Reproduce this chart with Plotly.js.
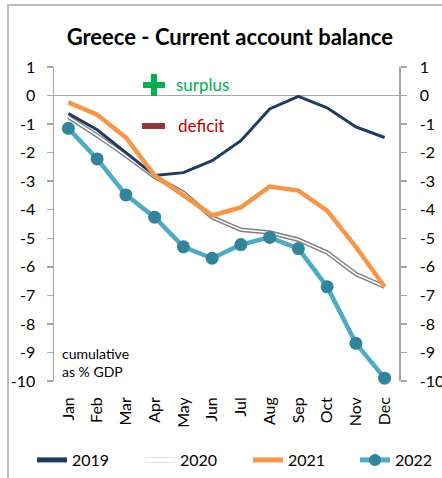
<!DOCTYPE html>
<html>
<head>
<meta charset="utf-8">
<script src="https://cdn.plot.ly/plotly-3.0.1.min.js"></script>
<style>html,body{margin:0;padding:0;background:#fff;}#chart{width:442px;height:478px;}</style>
</head>
<body>
<div id="chart"></div>
<script>
const months = ["Jan","Feb","Mar","Apr","May","Jun","Jul","Aug","Sep","Oct","Nov","Dec"];
const y2019 = [-0.63,-1.2,-2.0,-2.8,-2.7,-2.28,-1.58,-0.47,-0.03,-0.43,-1.1,-1.47];
const y2020 = [-0.75,-1.4,-2.1,-2.85,-3.4,-4.27,-4.7,-4.8,-5.05,-5.5,-6.25,-6.7];
const y2021 = [-0.24,-0.67,-1.47,-2.8,-3.5,-4.2,-3.92,-3.19,-3.33,-4.03,-5.3,-6.7];
const y2022 = [-1.15,-2.22,-3.48,-4.26,-5.3,-5.7,-5.22,-4.97,-5.36,-6.7,-8.68,-9.9];
const yTicks = [1,0,-1,-2,-3,-4,-5,-6,-7,-8,-9,-10];

const FONT = "Lato, 'Open Sans', sans-serif";
const px2x = p => (p - 54) / 345;
const px2y = p => (381 - p) / 314;

const traces = [
  {x: months, y: y2020, name: "2020", type: "scatter", mode: "lines", legend: "legend2",
   line: {color: "#7f7f7f", width: 4.5}},
  {x: months, y: y2020, name: "2020", type: "scatter", mode: "lines", legend: "legend5",
   line: {color: "#ffffff", width: 1.6}, hoverinfo: "skip"},
  {x: months, y: y2019, name: "2019", type: "scatter", mode: "lines", legend: "legend",
   line: {color: "#1f3b60", width: 3}},
  {x: months, y: y2021, name: "2021", type: "scatter", mode: "lines", legend: "legend3",
   line: {color: "#f79646", width: 4.5}},
  {x: months, y: y2022, name: "2022", type: "scatter", mode: "lines+markers", yaxis: "y2", legend: "legend4",
   line: {color: "#4bacc6", width: 4.5}, marker: {color: "#31849b", size: 13},
   cliponaxis: false}
];

function leg(px, extra) {
  return Object.assign({orientation: "h", x: px2x(px), xanchor: "left", y: px2y(460), yanchor: "middle",
          font: {size: 16}, bgcolor: "rgba(0,0,0,0)", borderwidth: 0, itemsizing: "constant"}, extra || {});
}

const layout = {
  width: 442, height: 478,
  margin: {l: 54, r: 43, t: 67, b: 97, autoexpand: false},
  paper_bgcolor: "#ffffff", plot_bgcolor: "#ffffff",
  font: {family: FONT, color: "#000", size: 14},
  showlegend: true,
  title: {text: "<b>Greece - Current account balance</b>", font: {family: FONT, size: 22, color: "#000"},
          x: 0.52, xanchor: "center", y: 0.922, yanchor: "middle"},
  xaxis: {type: "category", range: [-0.5, 11.5], showgrid: false, zeroline: false, showline: false,
          ticks: "", tickangle: -90, tickfont: {size: 16}, ticklabelstandoff: 12, fixedrange: true},
  yaxis: {range: [-10, 1], tickvals: yTicks, ticktext: yTicks.map(String), showgrid: false,
          zeroline: true, zerolinecolor: "#a6a6a6", zerolinewidth: 1.5,
          showline: true, linecolor: "#a6a6a6", linewidth: 1.5, ticks: "outside", ticklen: 6,
          tickcolor: "#a6a6a6", tickwidth: 1.5, ticklabelstandoff: 8, tickfont: {size: 16}},
  yaxis2: {range: [-10, 1], overlaying: "y", side: "right", tickvals: yTicks, ticktext: yTicks.map(String),
           showgrid: false, zeroline: false, showline: true, linecolor: "#a6a6a6", linewidth: 1.5,
           ticks: "outside", ticklen: 6, tickcolor: "#a6a6a6", tickwidth: 1.5, ticklabelstandoff: 10,
           tickfont: {size: 16}},
  legend: leg(32),
  legend2: leg(140),
  legend3: leg(248),
  legend4: leg(355),
  legend5: leg(140, {font: {size: 16, color: "rgba(0,0,0,0)"}}),
  shapes: [
    {type: "rect", xref: "paper", yref: "paper", x0: px2x(8), x1: px2x(460), y0: px2y(500), y1: px2y(5),
     line: {color: "#bfbfbf", width: 2}, fillcolor: "rgba(0,0,0,0)", layer: "below"},
    {type: "rect", xref: "paper", yref: "paper", x0: px2x(143), x1: px2x(165),
     y0: px2y(88), y1: px2y(82), fillcolor: "#00b050", line: {width: 0}},
    {type: "rect", xref: "paper", yref: "paper", x0: px2x(151), x1: px2x(157),
     y0: px2y(96), y1: px2y(74), fillcolor: "#00b050", line: {width: 0}},
    {type: "rect", xref: "paper", yref: "paper", x0: px2x(142), x1: px2x(165),
     y0: px2y(129), y1: px2y(123), fillcolor: "#953735", line: {width: 0}}
  ],
  annotations: [
    {text: "surplus", xref: "paper", yref: "paper", x: px2x(174), y: px2y(84),
     xanchor: "left", yanchor: "middle", showarrow: false, font: {size: 17, color: "#00b050"}},
    {text: "deficit", xref: "paper", yref: "paper", x: px2x(176), y: px2y(126),
     xanchor: "left", yanchor: "middle", showarrow: false, font: {size: 17, color: "#c00000"}},
    {text: "cumulative<br>as % GDP", xref: "paper", yref: "paper", x: px2x(60), y: px2y(362),
     xanchor: "left", yanchor: "middle", align: "left", showarrow: false, font: {size: 14, color: "#000"}}
  ]
};

Plotly.newPlot("chart", traces, layout, {displayModeBar: false, staticPlot: true});
</script>
</body>
</html>
